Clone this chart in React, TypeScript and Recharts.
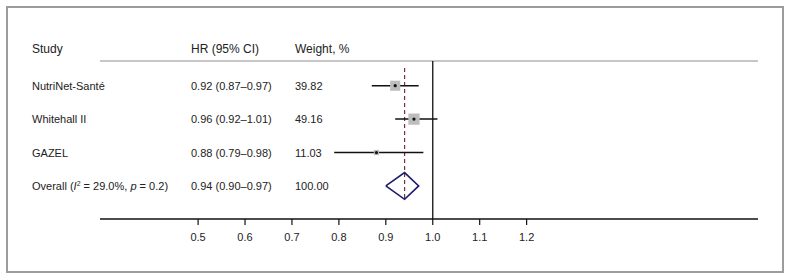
import React from "react";
import { ComposedChart, XAxis, YAxis, Scatter, ReferenceLine } from "recharts";

// study rows
const studies = ["NutriNet-Santé", "Whitehall II", "GAZEL"];
const hr = [0.92, 0.96, 0.88];
const lower = [0.87, 0.92, 0.79];
const upper = [0.97, 1.01, 0.98];
const weights = [39.82, 49.16, 11.03];

// pooled estimate
const overallHR = 0.94;
const overallLower = 0.9;
const overallUpper = 0.97;
const overallWeight = 100;
const i2 = "29.0%";
const pHet = "0.2";

const headers = ["Study", "HR (95% CI)", "Weight, %"];
const xTicks = [0.5, 0.6, 0.7, 0.8, 0.9, 1.0, 1.1, 1.2];
const xDomain = [0.291, 1.693];
const yDomain = [0.26, 4.99];

const FONT = "'Liberation Sans', Arial, Helvetica, sans-serif";
const TEXT = "#222";
const COL_X = [32, 191, 295];

const ci = (h: number, l: number, u: number) => `${h.toFixed(2)} (${l.toFixed(2)}–${u.toFixed(2)})`;

const rows = studies.map((s, i) => ({ x: hr[i], y: i + 1, w: weights[i] }));
const diamondH = 0.4;
const overallRow = studies.length + 1;
const diamond = [
  { x: overallLower, y: overallRow },
  { x: overallHR, y: overallRow - diamondH },
  { x: overallUpper, y: overallRow },
  { x: overallHR, y: overallRow + diamondH },
  { x: overallLower, y: overallRow },
];

function RowTick(props: any) {
  const { y, payload } = props;
  const i = payload.value - 1;
  const isOverall = i === studies.length;
  const cols = isOverall
    ? [null, ci(overallHR, overallLower, overallUpper), overallWeight.toFixed(2)]
    : [studies[i], ci(hr[i], lower[i], upper[i]), weights[i].toFixed(2)];
  return (
    <g fontFamily={FONT} fontSize={11} fill={TEXT}>
      {isOverall ? (
        <text x={COL_X[0]} y={y} dy={4}>
          Overall (<tspan fontStyle="italic">I</tspan>
          <tspan fontSize={7} dy={-4}>2</tspan>
          <tspan dy={4}> = {i2}, </tspan>
          <tspan fontStyle="italic">p</tspan> = {pHet})
        </text>
      ) : (
        <text x={COL_X[0]} y={y} dy={4}>{cols[0]}</text>
      )}
      <text x={COL_X[1]} y={y} dy={4}>{cols[1]}</text>
      <text x={COL_X[2]} y={y} dy={4}>{cols[2]}</text>
    </g>
  );
}

function WeightBox(props: any) {
  const { cx, cy, payload } = props;
  const s = 1.6 * Math.sqrt(payload.w);
  return (
    <g>
      <rect x={cx - s / 2} y={cy - s / 2} width={s} height={s} fill="#bdbdbd" />
      <circle cx={cx} cy={cy} r={1.6} fill="#111" />
    </g>
  );
}

export default function App() {
  return (
    <div style={{ position: "fixed", left: 0, top: 0, width: 791, height: 280, background: "#fff" }}>
      <div style={{ position: "absolute", left: 0, top: 0 }}>
        <ComposedChart width={791} height={280} margin={{ top: 61, right: 33, bottom: 31, left: 8 }}>
          <XAxis
            type="number"
            dataKey="x"
            domain={xDomain}
            ticks={xTicks}
            allowDataOverflow
            tickFormatter={(v: number) => v.toFixed(1)}
            axisLine={{ stroke: "#111", strokeWidth: 1.3 }}
            tickLine={{ stroke: "#111", strokeWidth: 1.2 }}
            tickSize={6}
            tickMargin={8}
            tick={{ fill: TEXT, fontSize: 11, fontFamily: FONT }}
            height={30}
          />
          <YAxis
            type="number"
            dataKey="y"
            domain={yDomain}
            reversed
            allowDataOverflow
            ticks={[1, 2, 3, 4]}
            width={92}
            axisLine={false}
            tickLine={false}
            tick={<RowTick />}
          />
          <ReferenceLine y={yDomain[0]} stroke="#b5b5b5" strokeWidth={1.5} />
          <ReferenceLine x={1} stroke="#111" strokeWidth={1.3} />
          <ReferenceLine
            segment={[{ x: overallHR, y: 0.47 }, { x: overallHR, y: 4.42 }]}
            stroke="#7a2e45"
            strokeDasharray="4 3"
            strokeWidth={1.2}
          />
          {studies.map((s, i) => (
            <ReferenceLine
              key={s}
              segment={[{ x: lower[i], y: i + 1 }, { x: upper[i], y: i + 1 }]}
              stroke="#111"
              strokeWidth={1.5}
            />
          ))}
          <Scatter data={rows} shape={<WeightBox />} isAnimationActive={false} />
          <Scatter
            data={diamond}
            line={{ stroke: "#1c1c6b", strokeWidth: 1.6 }}
            lineJointType="linear"
            shape={() => <g />}
            isAnimationActive={false}
          />
        </ComposedChart>
      </div>
      {headers.map((h, i) => (
        <div
          key={h}
          style={{
            position: "absolute", left: COL_X[i], top: 42, fontFamily: FONT,
            fontSize: 12, color: TEXT, whiteSpace: "nowrap",
          }}
        >
          {h}
        </div>
      ))}
      <div
        style={{
          position: "absolute", left: 6, top: 6, width: 778, height: 267, zIndex: 5,
          boxSizing: "border-box", border: "2px solid #9c9c9c", pointerEvents: "none",
        }}
      />
    </div>
  );
}
